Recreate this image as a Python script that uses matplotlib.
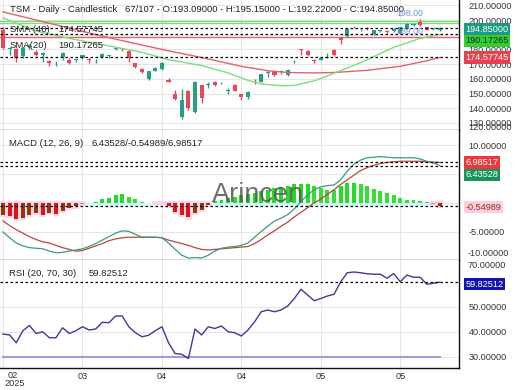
import matplotlib
matplotlib.use('Agg')
import matplotlib.pyplot as plt
import matplotlib.transforms as mtransforms
import numpy as np

plt.rcParams['font.family'] = ['Liberation Sans', 'DejaVu Sans']

# ---------------- data ----------------
opens = [193.5, 180.5, 180.0, 175.5, 181.5, 178.5, 176.5, 172.0, 170.5, 175.0,
         173.0, 172.5, 174.5, 173.5, 172.5, 175.0, 175.5, 180.0, 181.0, 179.0,
         170.5, 167.0, 160.0, 165.5, 166.5, 159.5, 150.0, 134.0, 151.5, 137.5,
         155.5, 156.0, 158.0, 157.0, 152.0, 156.0, 149.5, 147.5, 158.8, 158.0,
         164.3, 165.0, 164.5, 162.5, 172.5, 180.0, 179.0, 172.5, 173.0, 174.5,
         179.5, 187.5, 189.0, 195.5, 193.0, 194.3, 190.5, 192.5, 192.5, 192.5,
         191.0, 194.5, 196.5, 198.5, 195.0, 193.8, 193.09]
highs = [195.0, 181.5, 181.0, 181.5, 184.0, 179.5, 178.5, 172.5, 172.0, 178.0,
         174.0, 173.5, 176.5, 174.5, 173.5, 177.5, 176.5, 181.5, 181.2, 179.5,
         171.0, 167.5, 165.5, 168.0, 171.5, 160.5, 152.5, 153.0, 152.5, 158.5,
         156.0, 157.5, 158.5, 158.0, 153.5, 156.5, 150.0, 151.5, 160.0, 163.5,
         166.0, 165.5, 166.0, 166.5, 173.0, 180.5, 179.5, 173.5, 175.0, 177.5,
         180.0, 188.5, 194.5, 196.0, 194.0, 195.0, 193.5, 193.5, 193.0, 194.5,
         195.5, 198.0, 198.0, 200.5, 195.5, 194.5, 195.15]
lows = [180.0, 176.5, 171.5, 174.5, 180.5, 175.5, 171.5, 168.5, 168.5, 172.5,
        170.0, 171.5, 173.5, 170.5, 170.5, 174.5, 174.5, 179.5, 179.0, 171.5,
        167.5, 164.0, 159.5, 165.0, 166.0, 157.5, 145.5, 133.0, 138.5, 137.0,
        143.5, 153.5, 155.0, 156.5, 149.5, 151.5, 145.5, 146.5, 156.5, 157.5,
        161.5, 162.0, 163.0, 162.0, 170.5, 176.5, 175.5, 170.5, 172.5, 174.0,
        175.5, 184.0, 188.5, 194.5, 192.5, 193.5, 190.0, 192.0, 191.5, 192.0,
        190.5, 194.0, 196.0, 196.0, 193.0, 193.0, 192.22]
closes = [181.0, 181.0, 174.5, 181.0, 182.5, 176.0, 177.5, 170.8, 171.0, 177.5,
          171.0, 173.2, 176.0, 173.0, 173.0, 177.0, 176.5, 180.8, 180.0, 174.5,
          168.0, 164.5, 165.0, 167.5, 171.0, 158.0, 146.5, 145.5, 140.0, 158.0,
          147.0, 156.5, 155.5, 157.5, 152.5, 152.0, 147.5, 151.0, 158.3, 163.5,
          164.8, 162.8, 165.0, 166.0, 173.0, 179.5, 176.0, 172.0, 174.0, 175.0,
          176.0, 186.5, 194.0, 195.0, 193.5, 193.8, 193.0, 193.0, 192.0, 194.0,
          195.0, 197.5, 196.8, 196.5, 193.5, 194.2, 194.85]

sma48_day = [0, 5, 10, 15, 19, 25, 30, 33, 36, 40, 43, 47, 50, 55, 60, 64, 66]
sma48_val = [205.5, 200.0, 194.5, 189.0, 185.0, 179.0, 174.5, 171.5, 168.5, 165.5,
             164.3, 164.0, 164.3, 165.8, 168.5, 172.3, 174.57745]
sma20_day = [0, 5, 10, 17, 21, 25, 30, 34, 37, 39, 42, 44, 47, 49, 54, 59, 63, 66]
sma20_val = [201.5, 192.5, 187.5, 181.5, 178.0, 173.0, 169.0, 164.0, 159.0, 156.5,
             155.3, 155.5, 158.6, 162.0, 171.0, 181.4, 187.5, 190.17265]

macd = [-5.0, -6.0, -6.9, -7.4, -7.7, -7.8, -7.9, -8.3, -8.6, -8.5,
        -8.3, -8.1, -7.9, -7.5, -7.0, -6.4, -5.8, -5.2, -4.8, -4.9,
        -5.4, -5.9, -5.9, -5.9, -6.0, -6.9, -8.0, -9.0, -9.5, -9.4,
        -9.5, -9.0, -8.3, -7.8, -7.6, -7.5, -7.3, -6.9, -5.9, -4.9,
        -4.0, -3.1, -2.6, -2.0, -1.0, 0.2, 1.4, 2.3, 2.8, 3.0,
        3.1, 4.0, 5.5, 6.7, 7.4, 7.8, 7.9, 8.0, 7.9, 7.8,
        7.8, 7.8, 7.8, 7.6, 7.2, 6.9, 6.43528]
signal = [-3.1, -3.9, -4.6, -5.2, -5.8, -6.3, -6.7, -6.9, -7.3, -7.7,
          -8.0, -8.3, -8.2, -7.8, -7.4, -7.0, -6.5, -6.2, -6.0, -5.9,
          -5.9, -5.9, -5.9, -5.9, -6.0, -6.4, -6.7, -7.0, -7.3, -7.7,
          -8.0, -8.1, -8.0, -7.9, -7.8, -7.7, -7.6, -7.5, -7.0, -6.3,
          -5.5, -4.8, -4.0, -3.3, -2.4, -1.6, -0.8, 0.0, 0.7, 1.5,
          2.3, 3.2, 4.0, 4.8, 5.6, 6.1, 6.5, 6.8, 7.0, 7.1,
          7.2, 7.2, 7.2, 7.2, 7.1, 7.05, 6.98517]
hist = [-2.1, -2.2, -2.8, -2.6, -2.1, -1.8, -2.1, -1.8, -1.9, -1.3,
        -0.9, -0.6, -0.1, 0.05, 0.2, 0.7, 0.8, 1.4, 1.55, 1.1,
        0.7, 0.15, 0.02, -0.02, -0.05, -0.5, -1.5, -2.1, -2.5, -1.8,
        -1.2, -0.3, 0.4, 0.5, 0.8, 1.0, 1.3, 1.6, 1.8, 2.0,
        2.3, 2.6, 2.8, 3.0, 3.3, 3.3, 3.3, 2.9, 2.6, 2.3,
        2.2, 2.9, 3.4, 3.5, 3.2, 2.9, 2.4, 2.0, 1.7, 1.3,
        0.9, 0.6, 0.5, 0.3, 0.1, -0.1, -0.54989]
rsi = [39.1, 38.7, 35.6, 40.4, 42.5, 39.3, 40.0, 37.6, 37.6, 41.6,
       39.3, 40.4, 42.0, 40.7, 41.1, 43.8, 43.6, 46.3, 46.3, 42.0,
       39.6, 38.0, 38.6, 40.4, 42.0, 35.6, 31.3, 31.0, 29.3, 41.1,
       38.7, 42.0, 41.3, 42.3, 40.0, 39.6, 38.3, 40.7, 44.0, 48.0,
       48.7, 48.0, 48.7, 50.3, 53.3, 57.0, 54.7, 52.4, 53.3, 54.3,
       55.0, 60.0, 63.6, 63.9, 63.6, 63.2, 63.0, 63.0, 61.4, 63.3,
       60.0, 62.7, 61.8, 61.8, 59.0, 59.4, 59.82512]

date_ticks = [0, 12, 24, 36, 48, 60]
date_labels = ['02', '03', '04', '04', '05', '05']

price_ticks = [130, 140, 150, 160, 170, 180, 190, 200, 210]
price_ticks_hidden = [190]
macd_ticks = [10, 5, 0, -5]
macd_ticks_shown = [10, -5]
rsi_ticks = [30, 40, 50]

last_close = 194.85
sma48_last = 174.57745
sma20_last = 190.17265
green_levels = [199.6, 197.8]
red_level = 188.6
macd_last, signal_last, hist_last = 6.43528, 6.98517, -0.54989
rsi_last = 59.82512
rsi_low = 30

# ---------------- layout ----------------
W, H = 520, 390
fig = plt.figure(figsize=(5.2, 3.9), dpi=100)
fig.patch.set_facecolor('white')

def fx(px):
    return px / W

def fy(py):
    return 1 - py / H

RIGHT = 459
ax1 = fig.add_axes([0, fy(130), fx(RIGHT), 130 / H])
ax2 = fig.add_axes([0, fy(260), fx(RIGHT), 130 / H])
ax3 = fig.add_axes([0, fy(368), fx(RIGHT), 108 / H])

n = len(closes)
days = np.arange(n)
XL = (-0.453, 68.87)
TICKC = '#333333'
GRIDC = '#e6e6e6'
LABFS = 6.6

for ax in (ax1, ax2, ax3):
    ax.set_xlim(*XL)
    ax.set_facecolor('white')
    for s in ('left', 'top'):
        ax.spines[s].set_visible(False)
    ax.spines['right'].set_color('#111111')
    ax.spines['right'].set_linewidth(1.0)
    ax.spines['bottom'].set_color('#555555')
    ax.spines['bottom'].set_linewidth(1.0)
    ax.yaxis.tick_right()
    ax.tick_params(axis='y', length=0, pad=7, labelsize=LABFS, labelcolor=TICKC)
    ax.tick_params(axis='x', length=0, labelbottom=False)
    ax.set_xticks(date_ticks)
    ax.grid(True, color=GRIDC, lw=0.8, zorder=0)
    ax.set_axisbelow(True)

ax3.spines['bottom'].set_color('#111111')

def box(ax, val, txt, fc, tc, dy=0.0):
    tr = mtransforms.blended_transform_factory(ax.transAxes, ax.transData)
    tr = mtransforms.offset_copy(tr, fig=fig, x=0, y=dy, units='dots')
    ax.text(1.014, val, txt, transform=tr, fontsize=LABFS, color=tc, va='center', ha='left',
            bbox=dict(boxstyle='square,pad=0.18', fc=fc, ec='none'), clip_on=False, zorder=20)

# ---------------- price panel ----------------
ax1.set_ylim(125.2, 213.6)
ax1.set_yticks(price_ticks)
ax1.set_yticklabels(['' if t in price_ticks_hidden else f'{t:.5f}' for t in price_ticks])

UP, DN = '#26a085', '#e8485c'
cols = [UP if c >= o else DN for o, c in zip(opens, closes)]
ax1.vlines(days, lows, highs, colors=cols, lw=1.0, zorder=3)
bott = [min(o, c) for o, c in zip(opens, closes)]
hgt = [max(abs(c - o), 0.5) for o, c in zip(opens, closes)]
ax1.bar(days, hgt, bottom=bott, width=0.62, color=cols, zorder=4, linewidth=0)

ax1.plot(sma48_day, sma48_val, color='#e2636f', lw=1.0, zorder=5)
ax1.plot(sma20_day, sma20_val, color='#7fdc7f', lw=1.0, zorder=5)

for g in green_levels:
    ax1.axhline(g, color='#7fdc7f', lw=1.0, zorder=2)
ax1.axhline(red_level, color='#e2636f', lw=1.0, zorder=2)
for lv in (last_close, sma20_last, sma48_last):
    ax1.axhline(lv, color='black', lw=0.9, ls=(0, (2, 2)), zorder=6)

box(ax1, last_close, f'{last_close:.5f}', '#1d9a83', 'white', dy=-2)
box(ax1, sma20_last, f'{sma20_last:.5f}', '#2ed12e', '#222222', dy=-6.5)
box(ax1, sma48_last, f'{sma48_last:.5f}', '#e8414e', 'white', dy=0)
fig.text(fx(468), fy(127), '120.00000', fontsize=LABFS, color=TICKC, va='center', ha='left')

tc = '#222222'
TFS = 6.8
fig.text(fx(10), fy(10), 'TSM - Daily - Candlestick', fontsize=TFS, color=tc, va='center')
fig.text(fx(125), fy(10), '67/107 - O:193.09000 - H:195.15000 - L:192.22000 - C:194.85000',
         fontsize=TFS, color=tc, va='center')
fig.text(fx(10), fy(29), 'SMA (48)', fontsize=TFS, color=tc, va='center')
fig.text(fx(58), fy(29), '174.57745', fontsize=TFS, color=tc, va='center')
fig.text(fx(10), fy(46), 'SMA(20)', fontsize=TFS, color=tc, va='center')
fig.text(fx(58), fy(46), '190.17265', fontsize=TFS, color=tc, va='center')
fig.text(fx(396), fy(14), '198.00', fontsize=6.3, color='#7090e0', va='center')
fig.text(fx(396), fy(31), '189.00', fontsize=6.3, color='#7090e0', va='center')

# ---------------- MACD panel ----------------
ax2.set_ylim(-9.83, 12.59)
ax2.set_yticks(macd_ticks)
ax2.set_yticklabels([f'{t:.5f}' if t in macd_ticks_shown else '' for t in macd_ticks])

hv = np.array(hist)
neg = hv < 0
bg_bottom = np.where(neg, 0.4, -0.7)
bg_top = np.where(neg, hv - 0.35, np.minimum(hv, 0.25))
bg_col = np.where(neg, '#ffd6ea', '#d6fbfb')
ax2.bar(days, bg_top - bg_bottom, bottom=bg_bottom, width=1.0, color=bg_col, lw=0, zorder=1)

hcols = []
for i, v in enumerate(hist):
    prev = hist[i - 1] if i > 0 else v
    if abs(v) < 0.12:
        hcols.append('#a0a080')
    elif v >= 0:
        hcols.append('#22dd22' if v >= prev else '#33e033')
    else:
        hcols.append('#dd1515' if v < prev else '#8e3a0a')
ax2.bar(days, hist, width=0.6, color=hcols, lw=0, zorder=3)

fig.text(fx(212), fy(202), 'Arincen', fontsize=19.5, color='#555555', alpha=0.85,
         va='baseline', ha='left', zorder=4)

ax2.plot(days, signal, color='#b8463e', lw=0.9, zorder=5)
ax2.plot(days, macd, color='#3c9a80', lw=0.9, zorder=5)
for lv in (signal_last, macd_last, hist_last):
    ax2.axhline(lv, color='black', lw=0.9, ls=(0, (2, 2)), zorder=6)

box(ax2, signal_last, f'{signal_last:.5f}', '#e83a3a', 'white', dy=0)
box(ax2, macd_last, f'{macd_last:.5f}', '#17945a', 'white', dy=-9.3)
box(ax2, hist_last, f'{hist_last:.5f}', '#ffcce4', '#8e3a0a', dy=-1)
fig.text(fx(468), fy(253), '-10.00000', fontsize=LABFS, color=TICKC, va='center', ha='left')

fig.text(fx(9), fy(143), 'MACD (12, 26, 9)', fontsize=TFS, color=tc, va='center')
fig.text(fx(92), fy(143), f'{macd_last:.5f}/{hist_last:.5f}/{signal_last:.5f}',
         fontsize=TFS, color=tc, va='center')

# ---------------- RSI panel ----------------
ax3.set_ylim(25.5, 68.7)
ax3.set_yticks(rsi_ticks)
ax3.set_yticklabels([f'{t:.5f}' for t in rsi_ticks])
ax3.plot([days[0], days[-1]], [rsi_low, rsi_low], color='#a899dd', lw=1.5, zorder=3)
ax3.plot(days, rsi, color='#3b3b9a', lw=1.0, zorder=5)
ax3.axhline(rsi_last, color='black', lw=0.9, ls=(0, (2, 2)), zorder=6)
box(ax3, rsi_last, f'{rsi_last:.5f}', '#1515b0', 'white', dy=-2)
fig.text(fx(468), fy(266), '70.00000', fontsize=LABFS, color=TICKC, va='center', ha='left')

fig.text(fx(9), fy(274), 'RSI (20, 70, 30)', fontsize=TFS, color=tc, va='center')
fig.text(fx(89), fy(274), f'{rsi_last:.5f}', fontsize=TFS, color=tc, va='center')

# x labels
ax3.tick_params(axis='x', labelbottom=True, labelsize=LABFS, labelcolor=TICKC, pad=3)
ax3.set_xticklabels([''] + date_labels[1:])
fig.text(fx(13), fy(376), date_labels[0], fontsize=LABFS, color=TICKC, va='center', ha='center')
fig.text(fx(15), fy(384), '2025', fontsize=LABFS, color=TICKC, va='center', ha='center')

fig.savefig('out.png', dpi=100, facecolor='white')
